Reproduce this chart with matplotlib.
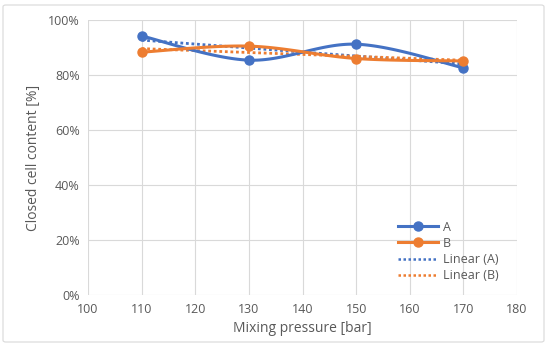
import numpy as np
import matplotlib
matplotlib.use("Agg")
import matplotlib.pyplot as plt
import matplotlib.lines as mlines
from matplotlib.patches import FancyBboxPatch

pressure = [110, 130, 150, 170]
series_a = [0.942, 0.854, 0.912, 0.826]
series_b = [0.883, 0.905, 0.860, 0.851]
x_ticks = [100, 110, 120, 130, 140, 150, 160, 170, 180]
y_ticks = [0, 0.2, 0.4, 0.6, 0.8, 1.0]

BLUE = "#4472C4"
ORANGE = "#ED7D31"
GRAY = "#595959"
GRID = "#D9D9D9"

plt.rcParams['font.family'] = ['Open Sans', 'DejaVu Sans']


def smooth(xs, ys, n=40):
    xs = np.asarray(xs, float)
    ys = np.asarray(ys, float)
    sx, sy = 53.6 / 10.0, 274.3
    P = np.column_stack([xs * sx, ys * sy])
    out = []
    for i in range(len(P) - 1):
        p0 = P[i - 1] if i > 0 else P[i]
        p1 = P[i]
        p2 = P[i + 1]
        p3 = P[i + 2] if i + 2 < len(P) else P[i + 1]
        c1 = p1 + (p2 - p0) / 6.0
        c2 = p2 - (p3 - p1) / 6.0
        t = np.linspace(0, 1, n)[:, None]
        seg = ((1 - t) ** 3) * p1 + 3 * ((1 - t) ** 2) * t * c1 + 3 * (1 - t) * t ** 2 * c2 + t ** 3 * p2
        out.append(seg if i == 0 else seg[1:])
    S = np.vstack(out)
    return S[:, 0] / sx, S[:, 1] / sy


fig = plt.figure(figsize=(5.5, 3.47), dpi=100)
fig.patches.append(FancyBboxPatch((3 / 550, 5 / 347), 541 / 550, 337 / 347,
                                  boxstyle="round,pad=0,rounding_size=0.005",
                                  transform=fig.transFigure, fill=False,
                                  edgecolor="#D9D9D9", linewidth=0.8))
ax = fig.add_axes([88 / 550, 1 - 295 / 347, (517 - 88) / 550, (295 - 20) / 347])

for ys, col in [(series_a, BLUE), (series_b, ORANGE)]:
    sx_, sy_ = smooth(pressure, ys)
    ax.plot(sx_, sy_, color=col, lw=2.2, zorder=3)
    ax.plot(pressure, ys, 'o', color=col, ms=6.5, zorder=4)

handles = [
    mlines.Line2D([], [], color=BLUE, lw=2.2, marker='o', ms=6.5, label="A"),
    mlines.Line2D([], [], color=ORANGE, lw=2.2, marker='o', ms=6.5, label="B"),
]

xfit = np.array([pressure[0], pressure[-1]], float)
for ys, col, name in [(series_a, BLUE, "Linear (A)"), (series_b, ORANGE, "Linear (B)")]:
    k, b = np.polyfit(pressure, ys, 1)
    ax.plot(xfit, k * xfit + b, color=col, lw=2.0, ls=(0, (1, 1)), zorder=2)
    handles.append(mlines.Line2D([], [], color=col, lw=1.8, ls=(0, (1, 1)), label=name))

ax.set_xlim(100, 180)
ax.set_ylim(0, 1.0)
ax.set_xticks(x_ticks)
ax.set_yticks(y_ticks)
ax.set_yticklabels([f"{int(round(v * 100))}%" for v in y_ticks])
ax.grid(True, color=GRID, lw=0.8)
ax.set_axisbelow(True)
for s in ax.spines.values():
    s.set_visible(False)
ax.tick_params(length=0, labelsize=9, colors=GRAY, pad=6)
ax.set_xlabel("Mixing pressure [bar]", fontsize=10, color=GRAY, labelpad=3)
ax.set_ylabel("Closed cell content [%]", fontsize=10, color=GRAY, labelpad=5)

leg = ax.legend(handles=handles, loc="lower left", bbox_to_anchor=(305 / 429, 8 / 275),
                frameon=False, fontsize=9, handlelength=3.2, handletextpad=0.4,
                labelspacing=0.25, borderaxespad=0)
for t in leg.get_texts():
    t.set_color(GRAY)

fig.savefig("out.png", dpi=100)
